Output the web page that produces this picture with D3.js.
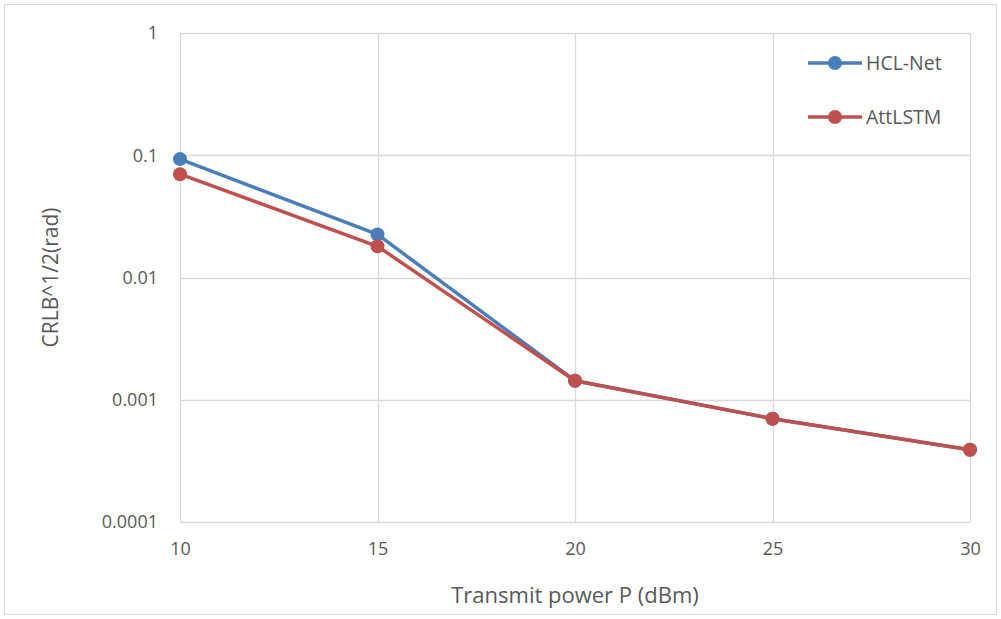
<!DOCTYPE html>
<html>
<head>
<meta charset="utf-8">
<script src="https://cdn.jsdelivr.net/npm/d3@7"></script>
<style>
  body { margin: 0; background: #fff; }
  text { font-family: "Open Sans", "Liberation Sans", sans-serif; fill: #595959; }
</style>
</head>
<body>
<div id="chart"></div>
<script>
// data
var power = [10, 15, 20, 25, 30];
var hclNet = [0.093, 0.0225, 0.00143, 0.0007, 0.00039];
var attLstm = [0.07, 0.018, 0.00143, 0.0007, 0.00039];
var yTicks = [0.0001, 0.001, 0.01, 0.1, 1];
var yTickLabels = ["0.0001", "0.001", "0.01", "0.1", "1"];

var series = [
    {name: "HCL-Net", values: hclNet, color: "#4A7EBB"},
    {name: "AttLSTM", values: attLstm, color: "#C0504D"}
];

var W = 1001, H = 619;
var margin = {top: 33, right: 31, bottom: 97, left: 180},
    width = W - margin.left - margin.right,
    height = H - margin.top - margin.bottom;

var svg = d3.select("#chart")
    .append("svg")
    .attr("width", W)
    .attr("height", H);

// outer frame
svg.append("rect")
    .attr("x", 4.5).attr("y", 4.5)
    .attr("width", W - 9).attr("height", H - 9)
    .attr("fill", "none")
    .attr("stroke", "#d9d9d9");

var g = svg.append("g")
    .attr("transform", "translate(" + margin.left + "," + margin.top + ")");

var x = d3.scaleLinear()
    .domain([10, 30])
    .range([0, width]);

var y = d3.scaleLog()
    .domain([0.0001, 1])
    .range([height, 0]);

// gridlines
g.append("g")
    .selectAll("line.h")
    .data(yTicks)
    .enter()
    .append("line")
    .attr("x1", 0).attr("x2", width)
    .attr("y1", function(d) { return Math.round(y(d)) + 0.5; })
    .attr("y2", function(d) { return Math.round(y(d)) + 0.5; })
    .attr("stroke", "#d9d9d9")
    .attr("stroke-width", 1.3);

g.append("g")
    .selectAll("line.v")
    .data(power)
    .enter()
    .append("line")
    .attr("y1", 0).attr("y2", height)
    .attr("x1", function(d) { return Math.round(x(d)) + 0.5; })
    .attr("x2", function(d) { return Math.round(x(d)) + 0.5; })
    .attr("stroke", "#d9d9d9")
    .attr("stroke-width", 1.3);

// X axis
var xAxis = g.append("g")
    .attr("transform", "translate(0," + height + ")")
    .call(d3.axisBottom(x).tickValues(power).tickSize(0).tickPadding(20));
xAxis.select(".domain").remove();
xAxis.selectAll("text")
    .style("font-size", "18px")
    .style("fill", "#595959");

// Y axis
var yAxis = g.append("g")
    .call(d3.axisLeft(y).tickValues(yTicks).tickSize(0).tickPadding(22)
        .tickFormat(function(d, i) { return yTickLabels[i]; }));
yAxis.select(".domain").remove();
yAxis.selectAll("text")
    .style("font-size", "18px")
    .style("fill", "#595959");

// axis titles
svg.append("text")
    .attr("x", margin.left + width / 2)
    .attr("y", 603)
    .style("text-anchor", "middle")
    .style("font-size", "22px")
    .text("Transmit power P (dBm)");

svg.append("text")
    .attr("transform", "translate(58," + (margin.top + height / 2) + ") rotate(-90)")
    .style("text-anchor", "middle")
    .style("font-size", "21px")
    .text("CRLB^1/2(rad)");

// lines and markers
var line = d3.line()
    .x(function(d, i) { return x(power[i]); })
    .y(function(d) { return y(d); });

series.forEach(function(s) {
    g.append("path")
        .datum(s.values)
        .attr("d", line)
        .attr("fill", "none")
        .attr("stroke", s.color)
        .attr("stroke-width", 3.5)
        .attr("stroke-linejoin", "round");
    g.selectAll("circle." + s.name.replace(/\W/g, ""))
        .data(s.values)
        .enter()
        .append("circle")
        .attr("cx", function(d, i) { return x(power[i]); })
        .attr("cy", function(d) { return y(d); })
        .attr("r", 7)
        .attr("fill", s.color);
});

// legend
var legend = svg.append("g");
series.forEach(function(s, i) {
    var ly = 63 + i * 54;
    legend.append("line")
        .attr("x1", 808).attr("x2", 862)
        .attr("y1", ly).attr("y2", ly)
        .attr("stroke", s.color)
        .attr("stroke-width", 3.5);
    legend.append("circle")
        .attr("cx", 835).attr("cy", ly)
        .attr("r", 7)
        .attr("fill", s.color);
    legend.append("text")
        .attr("x", 866).attr("y", ly)
        .attr("dy", "0.35em")
        .style("font-size", "19.5px")
        .text(s.name);
});
</script>
</body>
</html>
